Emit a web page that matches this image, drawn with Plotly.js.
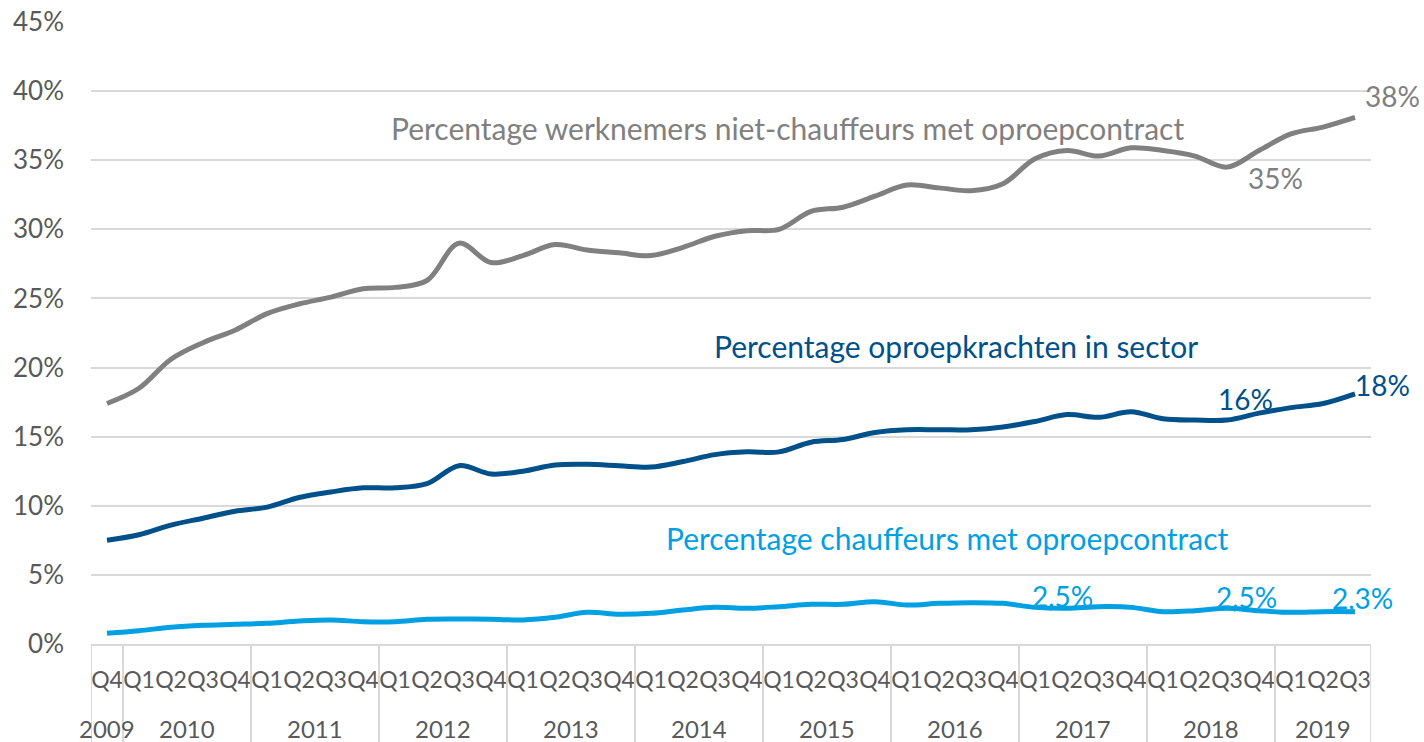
<!DOCTYPE html>
<html>
<head>
<meta charset="utf-8">
<script src="https://cdn.plot.ly/plotly-3.0.1.min.js"></script>
<style>
  html, body { margin: 0; padding: 0; background: #fff; }
  #chart { width: 1424px; height: 742px; }
</style>
</head>
<body>
<div id="chart"></div>
<script>
// x axis: year row + quarter row (2009 Q4 .. 2019 Q3)
const periodYear = [
  "2009",
  "2010", "2010", "2010", "2010",
  "2011", "2011", "2011", "2011",
  "2012", "2012", "2012", "2012",
  "2013", "2013", "2013", "2013",
  "2014", "2014", "2014", "2014",
  "2015", "2015", "2015", "2015",
  "2016", "2016", "2016", "2016",
  "2017", "2017", "2017", "2017",
  "2018", "2018", "2018", "2018",
  "2019", "2019", "2019",
];
const periodQuarter = [
  "Q4",
  "Q1", "Q2", "Q3", "Q4",
  "Q1", "Q2", "Q3", "Q4",
  "Q1", "Q2", "Q3", "Q4",
  "Q1", "Q2", "Q3", "Q4",
  "Q1", "Q2", "Q3", "Q4",
  "Q1", "Q2", "Q3", "Q4",
  "Q1", "Q2", "Q3", "Q4",
  "Q1", "Q2", "Q3", "Q4",
  "Q1", "Q2", "Q3", "Q4",
  "Q1", "Q2", "Q3",
];

// percentages (fractions)
const nietChauffeurs = [
  0.174,
  0.185, 0.206, 0.218, 0.227,
  0.239, 0.246, 0.251, 0.257,
  0.258, 0.263, 0.290, 0.276,
  0.281, 0.289, 0.285, 0.283,
  0.281, 0.287, 0.295, 0.299,
  0.300, 0.313, 0.316, 0.324,
  0.332, 0.330, 0.328, 0.333,
  0.351, 0.357, 0.353, 0.359,
  0.357, 0.353, 0.345, 0.357,
  0.369, 0.374, 0.381,
];
const oproepkrachten = [
  0.075,
  0.079, 0.086, 0.091, 0.096,
  0.099, 0.106, 0.110, 0.113,
  0.113, 0.116, 0.129, 0.123,
  0.125, 0.1295, 0.130, 0.129,
  0.128, 0.132, 0.137, 0.139,
  0.139, 0.146, 0.148, 0.153,
  0.155, 0.155, 0.155, 0.157,
  0.161, 0.166, 0.164, 0.168,
  0.163, 0.162, 0.162, 0.167,
  0.171, 0.174, 0.181,
];
const chauffeurs = [
  0.0077,
  0.0096, 0.0121, 0.0135, 0.0142,
  0.0150, 0.0166, 0.0174, 0.0161,
  0.0161, 0.0179, 0.0181, 0.0179,
  0.0174, 0.0193, 0.0229, 0.0215,
  0.0222, 0.0246, 0.0265, 0.0258,
  0.0270, 0.0287, 0.0287, 0.0306,
  0.0282, 0.0294, 0.0299, 0.0294,
  0.0265, 0.0258, 0.0270, 0.0265,
  0.0234, 0.0241, 0.0258, 0.0241,
  0.0229, 0.0234, 0.0234,
];

const grey = "#808080";
const darkBlue = "#00508a";
const lightBlue = "#00a0e3";
const axisGrey = "#d9d9d9";
const textGrey = "#595959";
const font = "Lato, 'Open Sans', sans-serif";

// unique category per quarter, shown with just the quarter label
const periods = periodYear.map((y, i) => y + " " + periodQuarter[i]);

function lineTrace(name, values, color) {
  return {
    x: periods,
    y: values,
    name: name,
    type: "scatter",
    mode: "lines",
    line: { color: color, width: 5, shape: "spline", smoothing: 1 },
    hoverinfo: "skip",
  };
}

const traces = [
  lineTrace("Percentage werknemers niet-chauffeurs met oproepcontract", nietChauffeurs, grey),
  lineTrace("Percentage oproepkrachten in sector", oproepkrachten, darkBlue),
  lineTrace("Percentage chauffeurs met oproepcontract", chauffeurs, lightBlue),
];

// year groups -> dividers and centred year labels under the quarters
const yearGroups = [];
periodYear.forEach((y, i) => {
  const last = yearGroups[yearGroups.length - 1];
  if (last && last.year === y) last.end = i;
  else yearGroups.push({ year: y, start: i, end: i });
});

const dividerBottom = -98 / 622;
const shapes = [];
yearGroups.forEach((g) => {
  shapes.push({
    type: "line", xref: "x", yref: "paper",
    x0: g.start - 0.5, x1: g.start - 0.5, y0: 0, y1: dividerBottom,
    line: { color: axisGrey, width: 2 },
  });
});
shapes.push({
  type: "line", xref: "x", yref: "paper",
  x0: periods.length - 0.5, x1: periods.length - 0.5, y0: 0, y1: dividerBottom,
  line: { color: axisGrey, width: 2 },
});

const yearLabels = yearGroups.map((g) => ({
  text: g.year,
  xref: "x",
  yref: "paper",
  x: (g.start + g.end) / 2,
  y: -84 / 622,
  showarrow: false,
  xanchor: "center",
  yanchor: "middle",
  font: { family: font, size: 24, color: textGrey },
}));

function label(text, x, y, color, size) {
  return {
    text: text,
    xref: "paper",
    yref: "y",
    x: x,
    y: y,
    showarrow: false,
    xanchor: "center",
    yanchor: "middle",
    font: { family: font, size: size, color: color },
  };
}

const layout = {
  width: 1424,
  height: 742,
  margin: { l: 91, r: 53, t: 22, b: 98 },
  paper_bgcolor: "#ffffff",
  plot_bgcolor: "#ffffff",
  showlegend: false,
  font: { family: font, color: textGrey },
  xaxis: {
    type: "category",
    range: [-0.5, periods.length - 0.5],
    tickmode: "array",
    tickvals: periods,
    ticktext: periodQuarter,
    tickangle: 0,
    tickfont: { family: font, size: 23, color: textGrey },
    showgrid: false,
    showline: true,
    linecolor: axisGrey,
    linewidth: 2,
    ticks: "",
    ticklabelstandoff: 14,
  },
  yaxis: {
    range: [0, 0.45],
    dtick: 0.05,
    tickformat: ".0%",
    tickfont: { family: font, size: 26, color: textGrey },
    showgrid: true,
    gridcolor: axisGrey,
    gridwidth: 2,
    zeroline: false,
    showline: false,
    ticklabelstandoff: 26,
  },
  shapes: shapes,
  annotations: [
    label("Percentage werknemers niet-chauffeurs met oproepcontract", 0.544, 0.3734, grey, 30),
    label("Percentage oproepkrachten in sector", 0.676, 0.2156, darkBlue, 30),
    label("Percentage chauffeurs met oproepcontract", 0.669, 0.0767, lightBlue, 30),
    label("38%", 1.017, 0.3965, grey, 28),
    label("35%", 0.925, 0.3372, grey, 28),
    label("18%", 1.009, 0.1874, darkBlue, 28),
    label("16%", 0.902, 0.1773, darkBlue, 28),
    label("2,5%", 0.759, 0.0347, lightBlue, 28),
    label("2,5%", 0.903, 0.0340, lightBlue, 28),
    label("2,3%", 0.993, 0.0333, lightBlue, 28),
  ].concat(yearLabels),
};

Plotly.newPlot("chart", traces, layout, { staticPlot: true });
</script>
</body>
</html>
